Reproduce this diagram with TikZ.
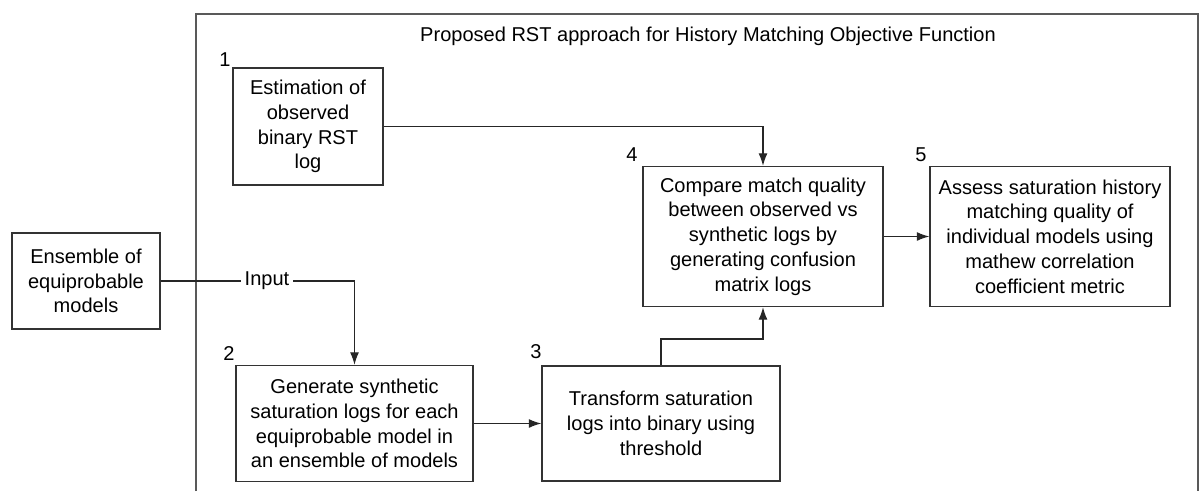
\documentclass[tikz,border=0pt]{standalone}
\usepackage{fontspec}
\setmainfont{Liberation Sans}
\usetikzlibrary{arrows.meta,positioning}

\begin{document}
\begin{tikzpicture}[%
      x=0.02cm, y=-0.02cm,
      font=\fontsize{11.4}{14.1}\selectfont,
      stepbox/.style={draw=black!80, line width=0.8pt, align=center, inner sep=0pt},
      flow/.style={draw=black!85, line width=0.7pt, -{Latex[length=2.5mm,width=1.8mm]}},
      frame/.style={draw=black!65, line width=1.2pt}]
      \useasboundingbox (0,0) rectangle (1200,491);
      \draw[frame] (196,491) |- (1198,14) -- (1198,491);
      \node (title) at (708,36) {Proposed RST approach for History Matching Objective Function};
      \node[stepbox, minimum width=2.96cm, minimum height=1.92cm] (ens) at (86,281)
        {Ensemble of\\equiprobable\\models};
      \node[stepbox, minimum width=3cm, minimum height=2.34cm] (b1) at (308,126.5)
        {Estimation of\\observed\\binary RST\\log};
      \node[stepbox, minimum width=4.74cm, minimum height=2.32cm] (b2) at (354.5,423.5)
        {Generate synthetic\\saturation logs for each\\equiprobable model in\\an ensemble of models};
      \node[stepbox, minimum width=4.76cm, minimum height=2.3cm] (b3) at (661,423.5)
        {Transform saturation\\logs into binary using\\threshold};
      \node[stepbox, minimum width=4.8cm, minimum height=2.8cm] (b4) at (763,236.5)
        {Compare match quality\\between observed vs\\synthetic logs by\\generating confusion\\matrix logs};
      \node[stepbox, minimum width=4.8cm, minimum height=2.8cm] (b5) at (1050,236.5)
        {Assess saturation history\\matching quality of\\individual models using\\mathew correlation\\coefficient metric};
      % step numbers
      \node (n1) at (225,60) {1};
      \node (n2) at (229,353) {2};
      \node (n3) at (536,352) {3};
      \node (n4) at (632,155) {4};
      \node (n5) at (921,155) {5};
      % connectors
      \node[fill=white, inner sep=2pt] (in) at (267,281) {Input};
      \draw[draw=black!85, line width=0.7pt] (ens) -- (in);
      \draw[flow] (in) -| (b2);
      \draw[flow] (b1) -| (b4);
      \draw[flow] (b2) -- (b3);
      \coordinate (elbow) at (661,339);
      \draw[flow] (b3.north) -- (elbow) -| (b4.south);
      \draw[flow] (b4) -- (b5);
\end{tikzpicture}
\end{document}
